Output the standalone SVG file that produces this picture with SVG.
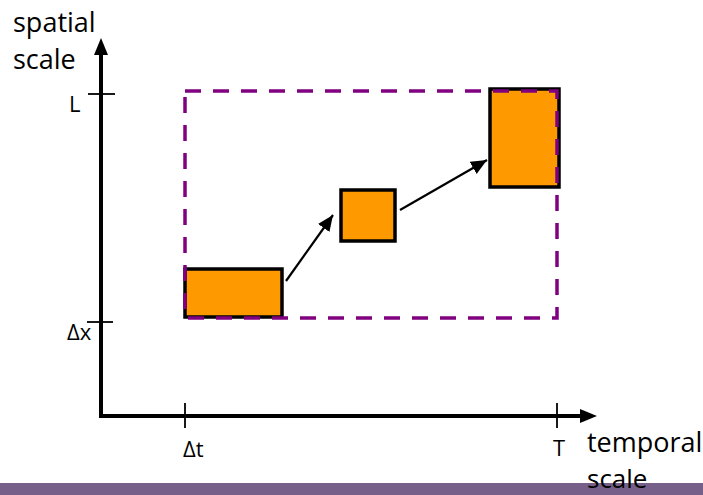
<svg xmlns="http://www.w3.org/2000/svg" width="703" height="495" viewBox="0 0 703 495">
  <style>
    .lbl { font-family: "Open Sans", "Liberation Sans", sans-serif; fill: #000; }
    .big { font-size: 27px; }
    .small { font-size: 22px; }
    .axis { stroke: #000; stroke-width: 4; fill: none; }
    .tick { stroke: #000; stroke-width: 1.8; }
    .box { fill: #FF9900; stroke: #000; stroke-width: 3.5; }
    .frame { fill: none; stroke: #800080; stroke-width: 3.5; stroke-dasharray: 16 12; }
    .conn { stroke: #000; stroke-width: 2.2; fill: none; }
  </style>
  <defs>
    <marker id="arr" markerUnits="userSpaceOnUse" markerWidth="18" markerHeight="16" refX="16" refY="7" orient="auto">
      <path d="M0,0 L16,7 L0,14 Z" fill="#000"/>
    </marker>
  </defs>
  <rect x="0" y="0" width="703" height="495" fill="#fff"/>
  <rect id="band" x="0" y="483" width="703" height="12" fill="#76608A"/>

  <g id="axes">
    <line class="axis" x1="101" y1="418" x2="101" y2="52"/>
    <polygon points="101,38 94,55 108,55" fill="#000"/>
    <line class="axis" x1="99" y1="416" x2="582" y2="416"/>
    <polygon points="597,416 580,409 580,423" fill="#000"/>
    <line class="tick" x1="88" y1="94" x2="115" y2="94"/>
    <line class="tick" x1="87" y1="322" x2="113" y2="322"/>
    <line class="tick" x1="185" y1="403" x2="185" y2="428"/>
    <line class="tick" x1="557" y1="403" x2="557" y2="428"/>
    <text class="lbl big" x="13" y="32">spatial</text>
    <text class="lbl big" x="13" y="69">scale</text>
    <text class="lbl big" x="587" y="452">temporal</text>
    <text class="lbl" x="587" y="488" font-size="26">scale</text>
    <text class="lbl small" x="69" y="112">L</text>
    <text class="lbl small" x="67" y="340">Δx</text>
    <text class="lbl small" x="183" y="457">Δt</text>
    <text class="lbl small" x="553" y="456">T</text>
  </g>

  <g id="box1"><rect class="box" x="185" y="269" width="97" height="48"/></g>
  <g id="box2"><rect class="box" x="341" y="190" width="54" height="51"/></g>
  <g id="box3"><rect class="box" x="490" y="89" width="69" height="98"/></g>

  <g id="frame"><rect class="frame" x="185" y="91" width="372" height="227"/></g>

  <g id="connectors">
    <line class="conn" x1="286" y1="281" x2="333" y2="215" marker-end="url(#arr)"/>
    <line class="conn" x1="400" y1="210" x2="487" y2="160" marker-end="url(#arr)"/>
  </g>
</svg>
